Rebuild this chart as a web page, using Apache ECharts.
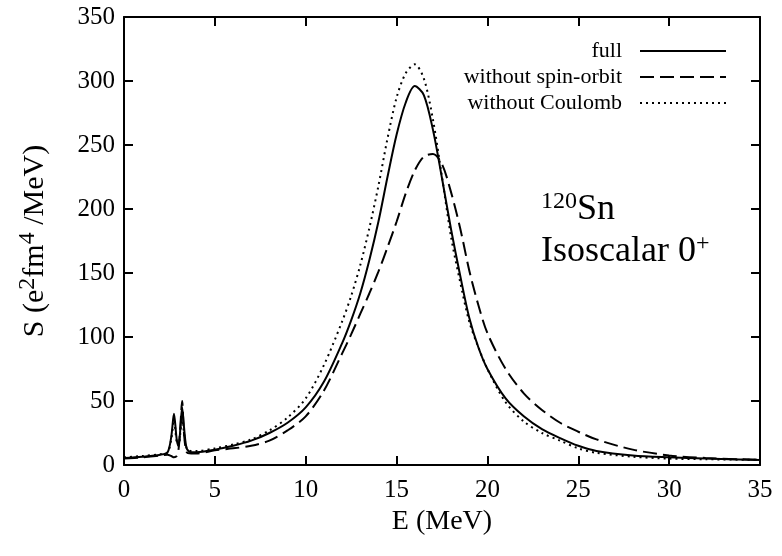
<!DOCTYPE html>
<html>
<head>
<meta charset="utf-8">
<script src="https://cdn.jsdelivr.net/npm/echarts@6/dist/echarts.min.js"></script>
<style>
  html, body { margin: 0; padding: 0; background: #fff; }
  #chart { width: 782px; height: 556px; }
</style>
</head>
<body>
<div id="chart"></div>
<script>
// energies (MeV), shared by all three curves
var energy = [0, 1, 2, 2.4, 2.6, 2.75, 2.9, 3.0, 3.1, 3.2, 3.3, 3.45, 3.7, 4, 5, 6, 7, 8, 9, 10, 11, 12, 12.5, 13, 13.5, 14, 14.5, 15, 15.5, 16, 16.5, 17, 17.5, 18, 18.5, 19, 19.5, 20, 21, 22, 23, 24, 25, 26, 28, 30, 32, 35];

var full = [5.5, 6.5, 8, 10, 22, 40, 20, 15, 28, 45, 30, 13, 10, 10, 12, 15, 19, 25, 33, 45, 65, 95, 113, 134, 160, 190, 225, 258, 283, 296, 289, 262, 224, 184, 148, 115, 92, 75, 52, 38, 28, 21, 15, 11, 7.5, 6, 5, 4];

var noSpinOrbit = [5, 6, 7.5, 8, 7, 6, 7, 12, 30, 50, 25, 10, 9, 9, 11.5, 13, 15, 19, 27, 38, 58, 87, 102, 118, 134, 151, 170, 190, 212, 230, 241, 243, 235, 213, 185, 152, 125, 103, 75, 56, 43, 33, 26, 20, 12, 7.5, 5.5, 4];

var noCoulomb = [6, 7, 8.5, 10, 20, 35, 18, 15, 25, 40, 25, 13, 11, 11, 13, 16, 20, 27, 37, 52, 78, 112, 132, 156, 185, 218, 255, 287, 306, 313, 302, 270, 225, 178, 143, 112, 92, 75, 49, 34, 25, 19, 13, 9.5, 6.5, 5, 4.5, 4];

var seriesNames = ['full', 'without spin-orbit', 'without Coulomb'];

function pairs(vals) {
    return energy.map(function (e, i) { return [e, vals[i]]; });
}

var font = 'Liberation Serif';
var chart = echarts.init(document.getElementById('chart'));

var tickAxis = {
    min: 0,
    axisLine: { show: true, onZero: false, lineStyle: { color: '#000', width: 2 } },
    axisTick: { show: true, inside: true, length: 9, lineStyle: { color: '#000', width: 2 } },
    splitLine: { show: false }
};

function curve(name, vals, dash) {
    return {
        name: name, type: 'line', data: pairs(vals),
        showSymbol: false, symbol: 'none', smooth: 0.3,
        lineStyle: { color: '#000', width: 2, type: dash },
        itemStyle: { color: '#000' }
    };
}

var supStyle = { fontFamily: font, fontSize: 24, fill: '#000', verticalAlign: 'top', padding: [0, 0, 16, 0] };
var bigStyle = { fontFamily: font, fontSize: 36, fill: '#000' };

chart.setOption({
    animation: false,
    grid: { left: 124, right: 22, top: 17, bottom: 91 },
    legend: {
        data: seriesNames,
        orient: 'vertical',
        right: 50,
        top: 35,
        align: 'right',
        itemWidth: 86,
        itemHeight: 12,
        itemGap: 4,
        itemStyle: { color: 'transparent', borderWidth: 0 },
        textStyle: { fontFamily: font, fontSize: 22, color: '#000', padding: [0, 13, 0, 0] }
    },
    xAxis: [
        Object.assign({}, tickAxis, {
            type: 'value', max: 35, interval: 5,
            name: 'E (MeV)', nameLocation: 'middle', nameGap: 42,
            nameTextStyle: { fontFamily: font, fontSize: 28, color: '#000' },
            axisLabel: { fontFamily: font, fontSize: 25, color: '#000', margin: 13 }
        }),
        Object.assign({}, tickAxis, {
            type: 'value', max: 35, interval: 5, position: 'top',
            axisLabel: { show: false }
        })
    ],
    yAxis: [
        Object.assign({}, tickAxis, {
            type: 'value', max: 350, interval: 50,
            name: 'S (e{sup|2}fm{sup|4} /MeV)', nameLocation: 'middle', nameGap: 70, nameRotate: 90,
            nameTextStyle: {
                fontFamily: font, fontSize: 30, color: '#000',
                rich: { sup: { fontFamily: font, fontSize: 24, color: '#000', verticalAlign: 'top', padding: [0, 0, 14, 0] } }
            },
            axisLabel: { fontFamily: font, fontSize: 25, color: '#000', margin: 9 }
        }),
        Object.assign({}, tickAxis, {
            type: 'value', max: 350, interval: 50, position: 'right',
            axisLabel: { show: false }
        })
    ],
    series: [
        curve(seriesNames[0], full, 'solid'),
        curve(seriesNames[1], noSpinOrbit, [14, 6]),
        curve(seriesNames[2], noCoulomb, [2, 4])
    ],
    graphic: [
        {
            type: 'text', left: 541, top: 190,
            style: { text: '{sup|120}{big|Sn}', rich: { sup: supStyle, big: bigStyle } }
        },
        {
            type: 'text', left: 541, top: 232,
            style: { text: '{big|Isoscalar 0}{sup|+}', rich: { sup: supStyle, big: bigStyle } }
        }
    ]
});
</script>
</body>
</html>
